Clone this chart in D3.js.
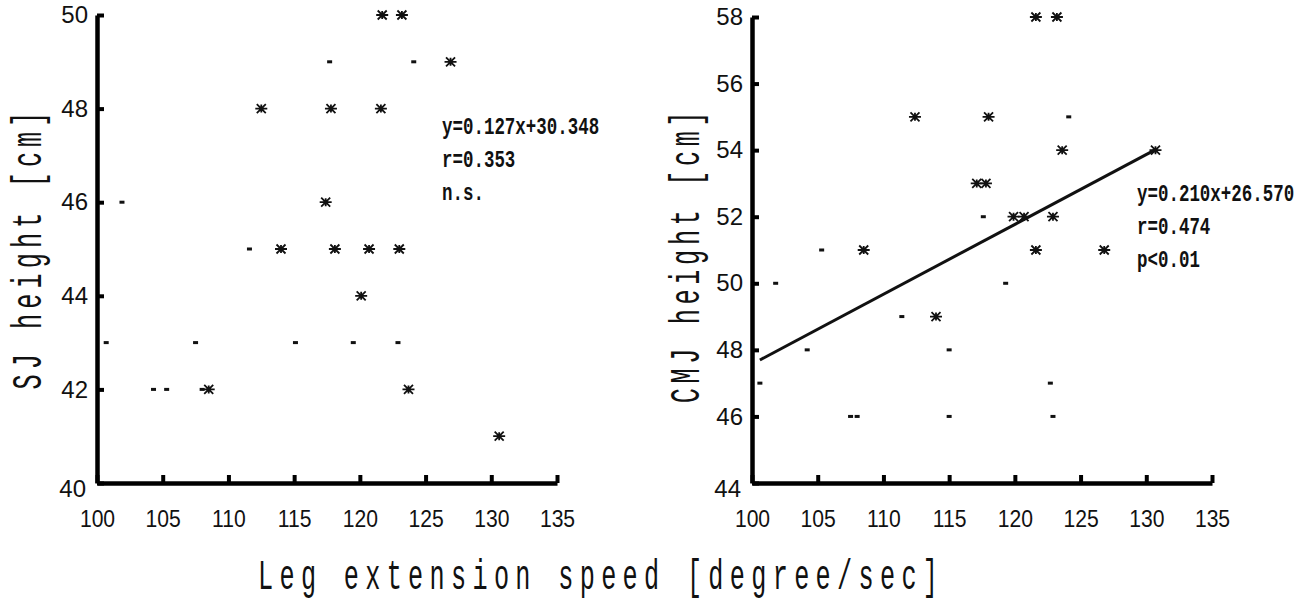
<!DOCTYPE html>
<html>
<head>
<meta charset="utf-8">
<script src="https://cdn.jsdelivr.net/npm/d3@7"></script>
<style>
  body { margin: 0; background: #fff; }
  .tick text { font-family: "Liberation Sans", Arial, sans-serif; font-size: 24px; fill: #111; }
  .stat { font-family: "Liberation Mono", monospace; font-weight: bold; font-size: 23px; fill: #111; }
  .title { font-family: "Liberation Mono", monospace; font-size: 42px; fill: #111; }
</style>
</head>
<body>
<div class="canvas"></div>
<script>
// x values are leg extension speed [degree/sec]
const xTicks = [100, 105, 110, 115, 120, 125, 130, 135];

// SJ panel
const sjTicks = [40, 42, 44, 46, 48, 50];
const sjStarX = [121.7, 123.2, 126.9, 112.5, 117.8, 121.6, 117.4, 114.0, 118.1, 120.7, 123.0, 120.1, 108.5, 123.7, 130.6];
const sjStarY = [50, 50, 49, 48, 48, 48, 46, 45, 45, 45, 45, 44, 42, 42, 41];
const sjDotX = [117.7, 124.1, 101.9, 111.6, 100.7, 107.5, 115.1, 119.5, 122.9, 104.3, 105.3, 108.0];
const sjDotY = [49, 49, 46, 45, 43, 43, 43, 43, 43, 42, 42, 42];
const sjStats = ["y=0.127x+30.348", "r=0.353", "n.s."];

// CMJ panel
const cmjTicks = [44, 46, 48, 50, 52, 54, 56, 58];
const cmjStarX = [121.6, 123.2, 112.4, 118.0, 123.6, 130.7, 117.1, 117.8, 119.9, 120.7, 122.9, 108.5, 121.6, 126.8, 114.0];
const cmjStarY = [58, 58, 55, 55, 54, 54, 53, 53, 52, 52, 52, 51, 51, 51, 49];
const cmjDotX = [124.1, 117.6, 105.3, 101.8, 119.3, 111.4, 104.2, 115.0, 100.6, 122.7, 107.5, 108.0, 115.0, 122.9];
const cmjDotY = [55, 52, 51, 50, 50, 49, 48, 48, 47, 47, 46, 46, 46, 46];
const cmjStats = ["y=0.210x+26.570", "r=0.474", "p<0.01"];
const cmjFit = { slope: 0.21, intercept: 26.57, from: 100.6, to: 130.7 };

const width = 1308;
const height = 605;

const svg = d3
  .select(".canvas")
  .append("svg")
  .attr("width", width)
  .attr("height", height);

// six armed asterisk like the old plotter mark
const star = "M-6,0H6M-4.5,-4.5L4.5,4.5M-4.5,4.5L4.5,-4.5M0,-4V4";

// narrow, widely spaced typewriter titles: squeeze glyphs, then spread them
const squeeze = 0.6;
const titleSize = 42;
const statScale = 0.76;

function spacingFor(txt, len) {
  const n = txt.length;
  return (len / squeeze - n * titleSize * 0.6) / (n - 1);
}

function drawPanel(p) {
  const x = d3.scaleLinear().domain([100, 135]).range([p.left, p.left + 460]);
  const y = d3.scaleLinear().domain(p.yDomain).range([p.bottom, p.top]);

  const g = svg.append("g");

  const yAxis = g
    .append("g")
    .attr("transform", `translate(${p.left},0)`)
    .call(d3.axisLeft(y).tickValues(p.yTicks).tickSize(-7).tickSizeOuter(0).tickPadding(9));
  yAxis.select(".domain").style("stroke-width", "4.5px");
  yAxis.selectAll(".tick line").style("stroke-width", "4px");
  // the lowest label sits a bit lower and left in the original
  yAxis.selectAll(".tick text").filter((d) => d === p.yDomain[0]).attr("dy", "0.55em").attr("x", -11);

  const xAxis = g
    .append("g")
    .attr("transform", `translate(0,${p.bottom})`)
    .call(d3.axisBottom(x).tickValues(xTicks).tickSize(-8).tickSizeOuter(0).tickPadding(27));
  xAxis.select(".domain").style("stroke-width", "4.5px");
  xAxis.selectAll(".tick line").style("stroke-width", "4px");
  xAxis.selectAll(".tick text").attr("transform", "scale(0.88,1)");

  // regression line
  if (p.fit) {
    const f = p.fit;
    g.append("path")
      .datum([f.from, f.to])
      .attr("d", d3.line().x((d) => x(d)).y((d) => y(f.slope * d + f.intercept)))
      .attr("fill", "none")
      .attr("stroke", "#111")
      .attr("stroke-width", 3);
  }

  // dashes
  g.selectAll(".dot")
    .data(p.dotX)
    .join("rect")
    .attr("x", (d) => x(d) - 2.5)
    .attr("y", (d, i) => y(p.dotY[i]) - 1.5)
    .attr("width", 5)
    .attr("height", 3)
    .attr("fill", "#111");

  // asterisks
  g.selectAll(".star")
    .data(p.starX)
    .join("path")
    .attr("d", star)
    .attr("transform", (d, i) => `translate(${x(d)},${y(p.starY[i])})`)
    .attr("stroke", "#111")
    .attr("stroke-width", 1.8)
    .attr("fill", "none");

  // stats text
  g.selectAll(".stat")
    .data(p.stats)
    .join("text")
    .attr("class", "stat")
    .attr("transform", (d, i) => `translate(${p.statX},${p.statY + i * 33}) scale(${statScale},1)`)
    .text((d) => d);

  // y title
  g.append("text")
    .attr("class", "title")
    .attr("transform", `translate(${p.titleX},${p.titleY}) rotate(-90) scale(${squeeze},1)`)
    .attr("text-anchor", "middle")
    .style("letter-spacing", `${spacingFor(p.title, p.titleLen)}px`)
    .text(p.title);
}

drawPanel({
  left: 97, top: 15, bottom: 483, yDomain: [40, 50], yTicks: sjTicks,
  starX: sjStarX, starY: sjStarY, dotX: sjDotX, dotY: sjDotY,
  stats: sjStats, statX: 442, statY: 134,
  title: "SJ height [cm]", titleX: 41, titleY: 248, titleLen: 278
});

drawPanel({
  left: 752, top: 17, bottom: 483, yDomain: [44, 58], yTicks: cmjTicks,
  starX: cmjStarX, starY: cmjStarY, dotX: cmjDotX, dotY: cmjDotY,
  stats: cmjStats, statX: 1137, statY: 201, fit: cmjFit,
  title: "CMJ height [cm]", titleX: 699, titleY: 255, titleLen: 292
});

// shared x title
const xTitle = "Leg extension speed [degree/sec]";
svg
  .append("text")
  .attr("class", "title")
  .attr("transform", `translate(258,589) scale(${squeeze},1)`)
  .style("letter-spacing", `${spacingFor(xTitle, 680)}px`)
  .text(xTitle);
</script>
</body>
</html>
